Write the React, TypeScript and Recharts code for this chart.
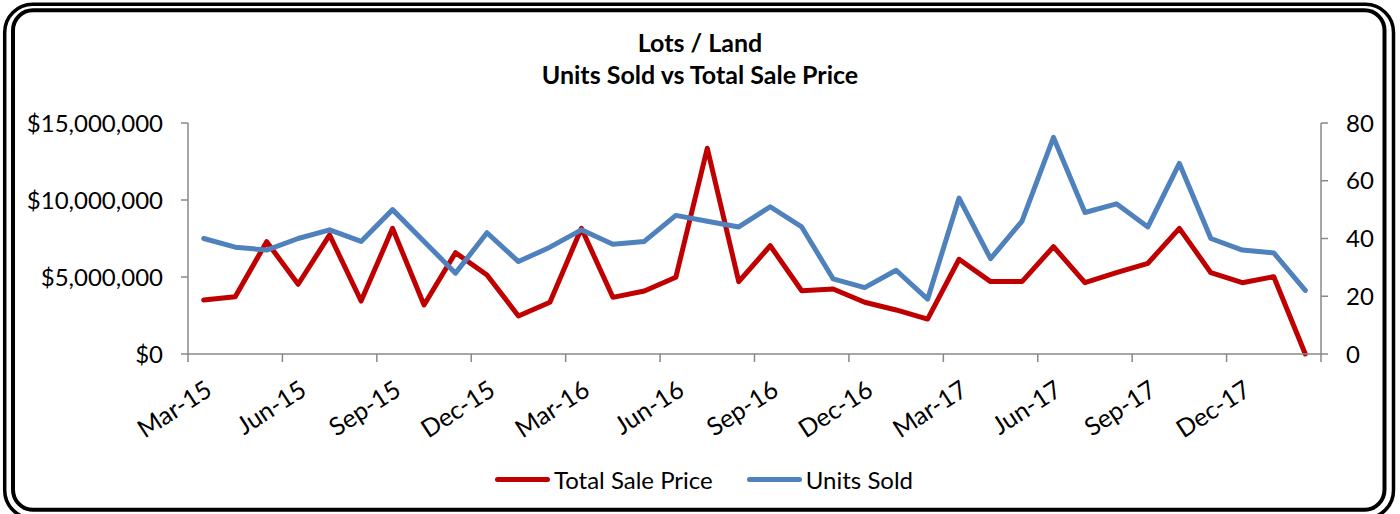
import { LineChart, Line, XAxis, YAxis, Legend } from "recharts";

const months = [
  "Mar-15", "Apr-15", "May-15", "Jun-15", "Jul-15", "Aug-15", "Sep-15", "Oct-15", "Nov-15", "Dec-15",
  "Jan-16", "Feb-16", "Mar-16", "Apr-16", "May-16", "Jun-16", "Jul-16", "Aug-16", "Sep-16", "Oct-16",
  "Nov-16", "Dec-16", "Jan-17", "Feb-17", "Mar-17", "Apr-17", "May-17", "Jun-17", "Jul-17", "Aug-17",
  "Sep-17", "Oct-17", "Nov-17", "Dec-17", "Jan-18", "Feb-18",
];

const totalSalePrice = [
  3510000, 3720000, 7290000, 4530000, 7730000, 3440000, 8160000, 3180000, 6580000, 5130000,
  2470000, 3360000, 8160000, 3680000, 4090000, 4980000, 13360000, 4700000, 7030000, 4110000,
  4220000, 3360000, 2860000, 2270000, 6150000, 4700000, 4700000, 6970000, 4630000, 5280000,
  5890000, 8160000, 5280000, 4630000, 5020000, 0,
];

const unitsSold = [
  40, 37, 36, 40, 43, 39, 50, 39, 28, 42,
  32, 37, 43, 38, 39, 48, 46, 44, 51, 44,
  26, 23, 29, 19, 54, 33, 46, 75, 49, 52,
  44, 66, 40, 36, 35, 22,
];

const priceTicks = [0, 5000000, 10000000, 15000000];
const unitTicks = [0, 20, 40, 60, 80];
// excel puts the tick marks between categories, every 3 months
const monthTicks = months.filter((_, i) => i % 3 === 0).map((_, k) => k * 3 - 0.5).concat([months.length - 0.5]);

const data = months.map((month, i) => ({
  idx: i,
  month,
  total: totalSalePrice[i],
  units: unitsSold[i],
}));

const W = 1400;
const H = 514;
const MARGIN = { top: 123, right: 19, left: 10, bottom: 50 };
const LEFT_W = 178;
const RIGHT_W = 60;
const PLOT_W = W - MARGIN.left - MARGIN.right - LEFT_W - RIGHT_W;
const BAND = PLOT_W / months.length;

const FONT = "Lato, 'Open Sans', sans-serif";
const AXIS = "#898989";
const RED = "#C00000";
const BLUE = "#4F81BD";

const fmtMoney = (v: number) => "$" + v.toLocaleString("en-US");

function MonthTick(props: any) {
  const { x, y, payload } = props;
  const i = Math.round(payload.value + 0.5);
  if (i >= months.length) return null;
  const ax = x + BAND / 2 + 10;
  const ay = y + 30;
  return (
    <g transform={`translate(${ax},${ay}) rotate(-33)`}>
      <text x={0} y={0} textAnchor="end" fill="#000" fontSize={25} fontFamily={FONT}>
        {months[i]}
      </text>
    </g>
  );
}

function LegendContent(props: any) {
  const { payload = [] } = props;
  return (
    <div
      style={{
        display: "flex",
        justifyContent: "center",
        alignItems: "center",
        height: 30,
        fontFamily: FONT,
        fontSize: 24,
        color: "#000",
      }}
    >
      {payload.map((p: any, k: number) => (
        <div key={p.value} style={{ display: "flex", alignItems: "center", marginLeft: k ? 34 : 0 }}>
          <span
            style={{
              display: "inline-block",
              width: 55,
              height: 5,
              borderRadius: 3,
              background: p.color,
              marginRight: 4,
            }}
          />
          <span>{p.value}</span>
        </div>
      ))}
    </div>
  );
}

export default function App() {
  return (
    <div style={{ position: "absolute", left: 0, top: 0, width: W, height: H, background: "#fff", overflow: "hidden" }}>
      <div
        style={{
          position: "absolute",
          top: 26,
          left: 0,
          width: W,
          textAlign: "center",
          fontFamily: FONT,
          fontWeight: 700,
          fontSize: 25,
          lineHeight: "32px",
          color: "#000",
        }}
      >
        <div>Lots / Land</div>
        <div>Units Sold vs Total Sale Price</div>
      </div>

      <LineChart width={W} height={H} data={data} margin={MARGIN}>
        <XAxis
          dataKey="idx"
          type="number"
          domain={[-0.5, months.length - 0.5]}
          ticks={monthTicks}
          interval={0}
          height={80}
          tickSize={8}
          tickMargin={2}
          stroke={AXIS}
          strokeWidth={1.5}
          tick={<MonthTick />}
        />
        <YAxis
          yAxisId="price"
          orientation="left"
          width={LEFT_W}
          domain={[0, 15000000]}
          ticks={priceTicks}
          interval={0}
          tickFormatter={fmtMoney}
          tickSize={7}
          tickMargin={18}
          stroke={AXIS}
          strokeWidth={1.5}
          tick={{ fill: "#000", fontSize: 24, fontFamily: FONT }}
        />
        <YAxis
          yAxisId="units"
          orientation="right"
          width={RIGHT_W}
          domain={[0, 80]}
          ticks={unitTicks}
          interval={0}
          tickSize={7}
          tickMargin={18}
          stroke={AXIS}
          strokeWidth={1.5}
          tick={{ fill: "#000", fontSize: 24, fontFamily: FONT }}
        />
        <Legend
          verticalAlign="bottom"
          content={<LegendContent />}
          wrapperStyle={{ left: 0, width: 1408, bottom: 20 }}
        />
        <Line
          yAxisId="price"
          type="linear"
          dataKey="total"
          name="Total Sale Price"
          stroke={RED}
          strokeWidth={5}
          strokeLinejoin="round"
          strokeLinecap="round"
          dot={false}
          activeDot={false}
          isAnimationActive={false}
        />
        <Line
          yAxisId="units"
          type="linear"
          dataKey="units"
          name="Units Sold"
          stroke={BLUE}
          strokeWidth={5}
          strokeLinejoin="round"
          strokeLinecap="round"
          dot={false}
          activeDot={false}
          isAnimationActive={false}
        />
      </LineChart>

      <svg width={W} height={H} style={{ position: "absolute", left: 0, top: 0, pointerEvents: "none" }}>
        <rect x={4.7} y={4.3} width={1388.8} height={514} rx={28} ry={28} fill="none" stroke="#000" strokeWidth={3.5} />
        <rect x={13} y={10.3} width={1371.5} height={499.5} rx={20} ry={20} fill="none" stroke="#000" strokeWidth={4} />
      </svg>
    </div>
  );
}
